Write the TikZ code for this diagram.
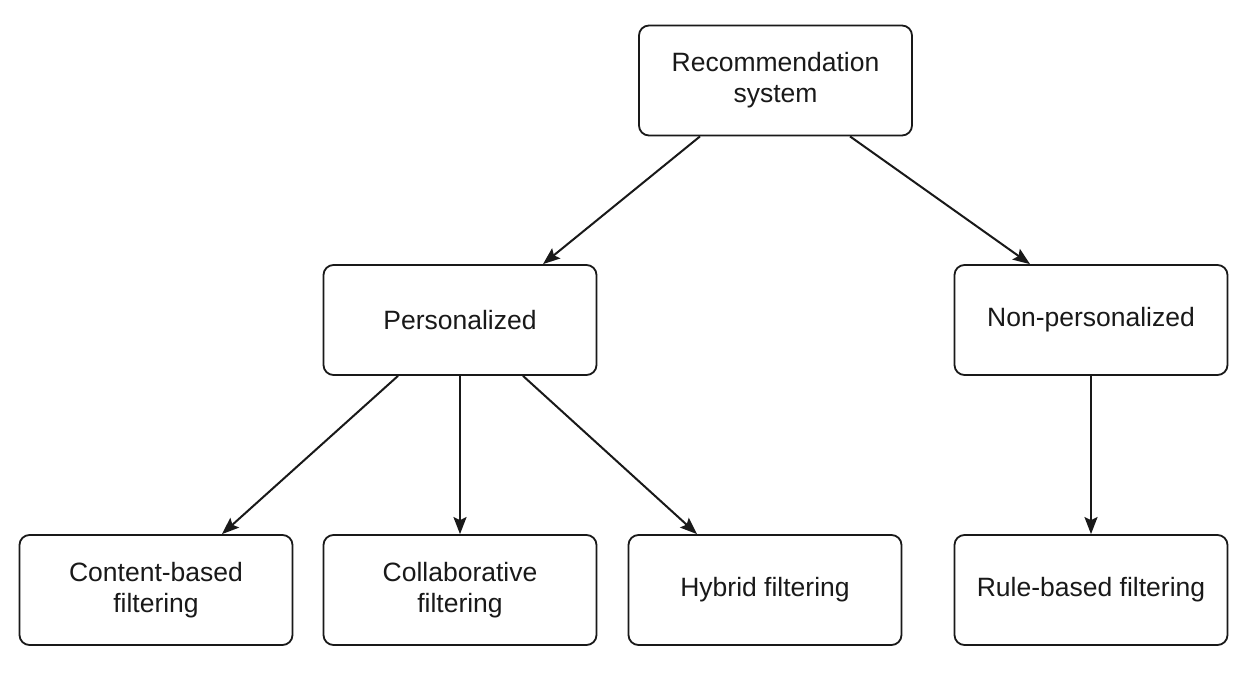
\documentclass[tikz,border=0pt]{standalone}
\usepackage{fontspec}
\setmainfont{Liberation Sans}
\usetikzlibrary{arrows.meta,calc}
\begin{document}
\begin{tikzpicture}[x=1pt,y=-1pt,
  box/.style={draw=black!90, line width=1.8pt, rounded corners=10pt, fill=white,
    minimum width=273pt, minimum height=110pt, inner sep=0pt, align=center,
    font=\fontsize{26.5}{31}\selectfont, text=black!90},
  conn/.style={line width=2pt, draw=black!90,
    -{Stealth[length=17pt,width=13pt,inset=3pt]}}]
\fill[white] (0,0) rectangle (1252,684);
\useasboundingbox (0,0) rectangle (1252,684);
\node[box] (top) at (775.5,80.5) {Recommendation\\system};
\node[box] (pers) at (460,320) {Personalized};
\node[box] (nonp) at (1091,320) {Non-personalized};
\node[box] (cont) at (156,590) {Content-based\\filtering};
\node[box] (coll) at (460,590) {Collaborative\\filtering};
\node[box] (hyb) at (765,590) {Hybrid filtering};
\node[box] (rule) at (1091,590) {Rule-based filtering};
\draw[conn] ([xshift=-75.5pt]top.south) -- ([xshift=83pt]pers.north);
\draw[conn] ([xshift=74.5pt]top.south) -- ([xshift=-61pt]nonp.north);
\draw[conn] ([xshift=-62pt]pers.south) -- ([xshift=66pt]cont.north);
\draw[conn] (pers.south) -- (coll.north);
\draw[conn] ([xshift=63pt]pers.south) -- ([xshift=-68pt]hyb.north);
\draw[conn] (nonp.south) -- (rule.north);
\end{tikzpicture}
\end{document}
